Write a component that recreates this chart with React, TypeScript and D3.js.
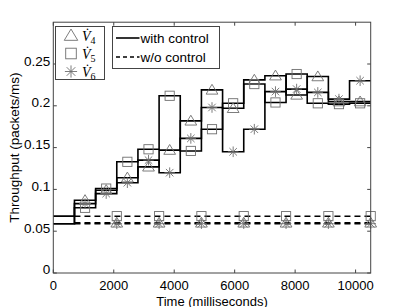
import React from 'react';
import * as d3 from 'd3';

// bin starts (ms), each bin lasts 700 ms
const binStarts = [0, 700, 1400, 2100, 2800, 3500, 4200, 4900, 5600, 6300, 7000, 7700, 8400, 9100, 9800];
const timeEnd = 10500;

// with control
const v4Ctrl = [0.059, 0.087, 0.099, 0.114, 0.127, 0.147, 0.182, 0.219, 0.197, 0.231, 0.236, 0.213, 0.235, 0.205, 0.205];
const v5Ctrl = [0.068, 0.078, 0.101, 0.133, 0.148, 0.212, 0.146, 0.172, 0.203, 0.226, 0.204, 0.238, 0.203, 0.202, 0.203];
const v6Ctrl = [0.059, 0.083, 0.095, 0.108, 0.135, 0.120, 0.161, 0.198, 0.145, 0.172, 0.217, 0.220, 0.216, 0.208, 0.230];

// w/o control
const noCtrlStart = 700;
const noCtrlMarkTimes = [2100, 3500, 4900, 6300, 7700, 9100, 10500];
const v4NoCtrl = 0.060;
const v5NoCtrl = 0.068;
const v6NoCtrl = 0.059;

const xTicks = [0, 2000, 4000, 6000, 8000, 10000];
const yTicks = [0, 0.05, 0.1, 0.15, 0.2, 0.25];
const yTickLabels = ['0', '0.05', '0.1', '0.15', '0.2', '0.25'];

const W = 409;
const H = 307;
const M = { left: 53.3, right: 38.3, top: 22.2, bottom: 34 };

const FONT = '"Liberation Sans", Arial, Helvetica, sans-serif';
const MARK = '#6e6e6e';

type Kind = 'tri' | 'sq' | 'star';

function Marker({ kind, x, y, s = 1 }: { kind: Kind; x: number; y: number; s?: number }) {
  if (kind === 'tri') {
    const h = 5.6 * s;
    return (
      <path d={`M${x},${y - h}L${x + h * 1.05},${y + h * 0.75}L${x - h * 1.05},${y + h * 0.75}Z`}
        fill="none" stroke={MARK} strokeWidth={0.9} />
    );
  }
  if (kind === 'sq') {
    const h = 4.6 * s;
    return <rect x={x - h} y={y - h} width={2 * h} height={2 * h} fill="none" stroke={MARK} strokeWidth={0.9} />;
  }
  const r = 5.3 * s;
  const d = r * 0.707;
  return (
    <path d={`M${x - r},${y}H${x + r}M${x},${y - r}V${y + r}M${x - d},${y - d}L${x + d},${y + d}M${x - d},${y + d}L${x + d},${y - d}`}
      fill="none" stroke={MARK} strokeWidth={0.9} />
  );
}

export default function App() {
  const x = d3.scaleLinear().domain([0, timeEnd]).range([M.left, W - M.right]);
  const y = d3.scaleLinear().domain([0, 0.3]).range([H - M.bottom, M.top]);

  const stair = d3.line<[number, number]>()
    .x((d) => x(d[0]))
    .y((d) => y(d[1]))
    .curve(d3.curveStepAfter);

  const ctrlSeries: { kind: Kind; vals: number[] }[] = [
    { kind: 'tri', vals: v4Ctrl },
    { kind: 'sq', vals: v5Ctrl },
    { kind: 'star', vals: v6Ctrl },
  ];
  const noCtrlSeries: { kind: Kind; val: number }[] = [
    { kind: 'sq', val: v5NoCtrl },
    { kind: 'tri', val: v4NoCtrl },
    { kind: 'star', val: v6NoCtrl },
  ];

  const stairPts = (vals: number[]): [number, number][] => {
    const pts: [number, number][] = binStarts.map((t, i) => [t, vals[i]]);
    pts.push([timeEnd, vals[vals.length - 1]]);
    return pts;
  };

  const x0 = M.left;
  const x1 = W - M.right;
  const y0 = H - M.bottom;
  const y1 = M.top;
  const tick = 3.5;

  return (
    <svg width={W} height={H} style={{ position: 'absolute', left: 0, top: 0, background: '#fff' }}>
      <rect x={0} y={0} width={W} height={H} fill="#fff" />

      {/* w/o control: dashed */}
      {noCtrlSeries.map((s, i) => (
        <path key={'nd' + i}
          d={stair([[noCtrlStart, s.val], [timeEnd, s.val]])}
          fill="none" stroke="#000" strokeWidth={1.5} strokeDasharray="6,4" />
      ))}
      {noCtrlSeries.map((s, i) =>
        noCtrlMarkTimes.map((t, j) => <Marker key={'nm' + i + '-' + j} kind={s.kind} x={x(t)} y={y(s.val)} />)
      )}

      {/* with control: stairs */}
      {ctrlSeries.map((s, i) => (
        <path key={'cl' + i} d={stair(stairPts(s.vals)) || ''} fill="none" stroke="#000" strokeWidth={1.6} />
      ))}
      {ctrlSeries.map((s, i) =>
        s.vals.slice(1).map((v, j) => (
          <Marker key={'cm' + i + '-' + j} kind={s.kind} x={x(binStarts[j + 1] + 350)} y={y(v)} />
        ))
      )}

      {/* axes box */}
      <rect x={x0} y={y1} width={x1 - x0} height={y0 - y1} fill="none" stroke="#444" strokeWidth={1} />
      {xTicks.map((t) => (
        <g key={'xt' + t}>
          <line x1={x(t)} x2={x(t)} y1={y0} y2={y0 - tick} stroke="#444" />
          <line x1={x(t)} x2={x(t)} y1={y1} y2={y1 + tick} stroke="#444" />
          <text x={x(t)} y={y0 + 16.5} textAnchor="middle" fontFamily={FONT} fontSize={13}>{t}</text>
        </g>
      ))}
      {yTicks.map((t, i) => (
        <g key={'yt' + t}>
          <line x1={x0} x2={x0 + tick} y1={y(t)} y2={y(t)} stroke="#444" />
          <line x1={x1} x2={x1 - tick} y1={y(t)} y2={y(t)} stroke="#444" />
          <text x={x0 - 3} y={y(t) + (i === 0 ? 1 : 1.5)} textAnchor="end" fontFamily={FONT} fontSize={13.5}>{yTickLabels[i]}</text>
        </g>
      ))}

      <text x={(x0 + x1) / 2} y={H - 1.5} textAnchor="middle" fontFamily={FONT} fontSize={13}>Time (milliseconds)</text>
      <text transform={`translate(19,${(y0 + y1) / 2}) rotate(-90)`} textAnchor="middle" fontFamily={FONT} fontSize={13.5}>
        Throughput (packets/ms)
      </text>

      {/* legend: series */}
      <rect x={55.5} y={26.5} width={49} height={53} fill="#fff" stroke="#444" strokeWidth={1} />
      {(['tri', 'sq', 'star'] as Kind[]).map((k, i) => (
        <g key={'lg' + k}>
          <Marker kind={k} x={71} y={35.5 + i * 18} s={1.15} />
          <text x={82} y={40.5 + i * 18} fontFamily='"Liberation Serif", "Times New Roman", serif' fontStyle="italic" fontSize={14}>
            {'V\u0307'}
            <tspan fontSize={10} dy={3} fontStyle="normal">{i + 4}</tspan>
          </text>
        </g>
      ))}

      {/* legend: control */}
      <rect x={112.5} y={26.5} width={107} height={42} fill="#fff" stroke="#444" strokeWidth={1} />
      <line x1={116} x2={139.5} y1={38} y2={38} stroke="#000" strokeWidth={1.6} />
      <text x={140.5} y={42.5} fontFamily={FONT} fontSize={13.5}>with control</text>
      <line x1={116} x2={139.5} y1={57} y2={57} stroke="#000" strokeWidth={1.5} strokeDasharray="4,3" />
      <text x={140.5} y={61.5} fontFamily={FONT} fontSize={13.5}>w/o control</text>
    </svg>
  );
}
